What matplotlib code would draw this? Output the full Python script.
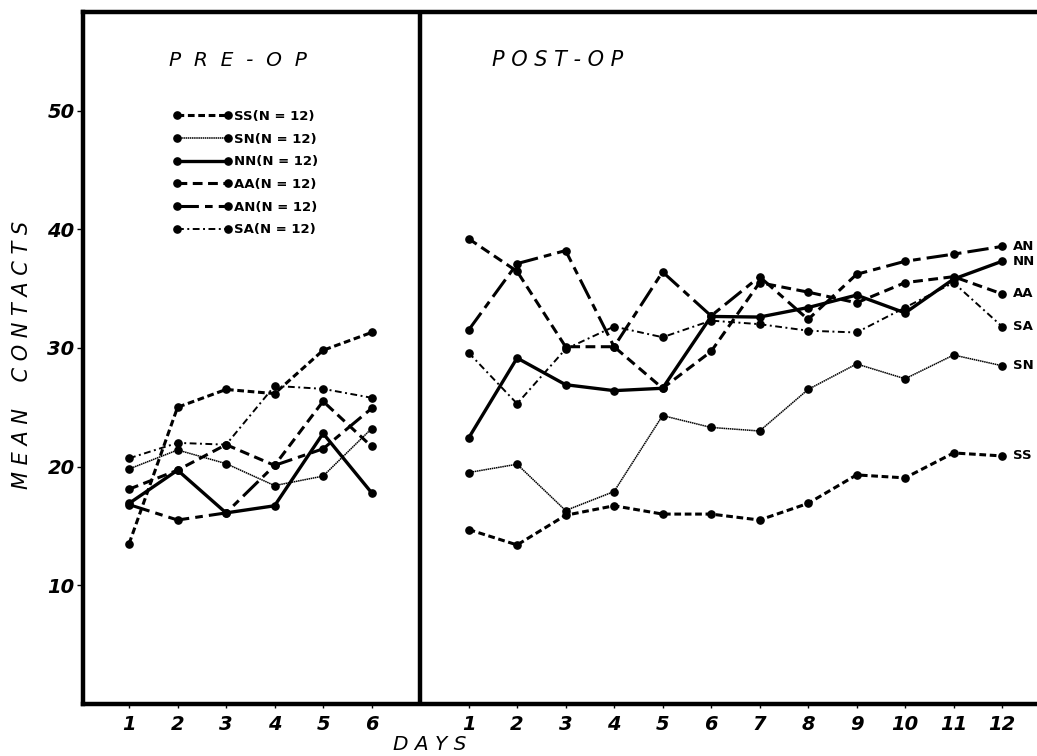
import matplotlib
matplotlib.use("Agg")
import matplotlib.pyplot as plt

# Mean contacts per day, six groups of 12 animals
pre_days = [1, 2, 3, 4, 5, 6]
post_days = [1, 2, 3, 4, 5, 6, 7, 8, 9, 10, 11, 12]

groups = ["SS", "SN", "NN", "AA", "AN", "SA"]
group_n = [12, 12, 12, 12, 12, 12]

pre_ss = [13.5, 25.0, 26.5, 26.15, 29.8, 31.3]
pre_sn = [19.8, 21.4, 20.25, 18.4, 19.2, 23.2]
pre_nn = [16.9, 19.7, 16.1, 16.7, 22.8, 17.8]
pre_aa = [18.1, 19.7, 21.85, 20.1, 25.5, 21.7]
pre_an = [16.8, 15.5, 16.1, 20.1, 21.5, 24.9]
pre_sa = [20.7, 22.0, 21.85, 26.8, 26.55, 25.8]

post_ss = [14.7, 13.4, 15.9, 16.7, 16.0, 16.0, 15.5, 16.9, 19.3, 19.05, 21.15, 20.9]
post_sn = [19.5, 20.2, 16.3, 17.9, 24.3, 23.3, 23.0, 26.5, 28.65, 27.4, 29.4, 28.5]
post_nn = [22.4, 29.15, 26.9, 26.4, 26.6, 32.65, 32.6, 33.4, 34.45, 32.95, 35.8, 37.3]
post_aa = [39.2, 36.45, 30.1, 30.1, 26.6, 29.7, 35.5, 34.7, 33.8, 35.5, 36.0, 34.55]
post_an = [31.5, 37.1, 38.2, 30.1, 36.4, 32.7, 36.0, 32.4, 36.2, 37.3, 37.9, 38.55]
post_sa = [29.6, 25.3, 29.9, 31.8, 30.9, 32.3, 32.0, 31.45, 31.3, 33.4, 35.5, 31.8]

y_ticks = [10, 20, 30, 40, 50]

pre_series = [pre_ss, pre_sn, pre_nn, pre_aa, pre_an, pre_sa]
post_series = [post_ss, post_sn, post_nn, post_aa, post_an, post_sa]

# line style per group
styles = {
    "SS": dict(ls=(0, (2.2, 1.2)), lw=2.2),
    "SN": dict(ls=(0, (1.0, 0.4)), lw=1.1),
    "NN": dict(ls="-", lw=2.4),
    "AA": dict(ls=(0, (3.2, 1.8)), lw=2.2),
    "AN": dict(ls=(0, (7, 2, 2.5, 2)), lw=2.2),
    "SA": dict(ls=(0, (3.5, 1.8, 1, 1.8)), lw=1.4),
}

# post-op days sit after a gap, sharing one horizontal scale
gap = len(pre_days) + 1
post_x = [d + gap for d in post_days]

W, H = 1037, 756
fig = plt.figure(figsize=(W / 100, H / 100), dpi=100)
ax = fig.add_axes([83 / W, 52 / H, 1 - 83 / W, (744 - 52) / H])
ax.set_xlim(0.05, 19.72)
ax.set_ylim(0, 58.3)

ink = "black"
for g, n, pre, post in zip(groups, group_n, pre_series, post_series):
    st = styles[g]
    ax.plot(pre_days, pre, color=ink, marker="o", ms=5.2, **st,
            label=f"{g}(N = {n})", solid_capstyle="butt", dash_capstyle="butt")
    ax.plot(post_x, post, color=ink, marker="o", ms=5.2, **st,
            solid_capstyle="butt", dash_capstyle="butt")
    ax.text(post_x[-1] + 0.23, post[-1], g, fontsize=9.5,
            fontweight="bold", va="center", ha="left", clip_on=False)

# divider between the two phases
ax.axvline(gap, color=ink, lw=3.2)

for side in ["left", "bottom", "top"]:
    ax.spines[side].set_linewidth(3.2)
ax.spines["right"].set_visible(False)

ax.set_xticks(pre_days + post_x)
ax.set_xticklabels([str(d) for d in pre_days] + [str(d) for d in post_days],
                   fontsize=14, fontstyle="italic", fontweight="bold")
ax.set_yticks(y_ticks)
ax.set_yticklabels([str(v) for v in y_ticks], fontsize=14,
                   fontstyle="italic", fontweight="bold")
ax.tick_params(axis="x", direction="out", length=3, width=1, pad=5)
ax.tick_params(axis="y", direction="out", length=4, width=1, pad=2)

ax.text(0.09, 0.93, "P  R  E  -  O  P", transform=ax.transAxes, fontsize=14.5,
        fontstyle="italic", va="center", ha="left")
ax.text(0.429, 0.93, "P O S T - O P", transform=ax.transAxes,
        fontsize=15, fontstyle="italic", va="center", ha="left")

fig.text(22 / W, 1 - 355 / H, "M E A N    C O N T A C T S", rotation=90,
         fontsize=15, fontstyle="italic", va="center", ha="center")
fig.text(430 / W, 1 - 745 / H, "D A Y S", fontsize=14.5, fontstyle="italic",
         va="center", ha="center")

leg = ax.legend(loc="upper left", bbox_to_anchor=(90 / 954, 1 - 98 / 692),
                frameon=False, numpoints=2, handlelength=4.5,
                handletextpad=0.15, labelspacing=0.73, borderpad=0,
                borderaxespad=0,
                prop=dict(size=9.5, weight="bold"))

fig.savefig("out.png", dpi=100)
